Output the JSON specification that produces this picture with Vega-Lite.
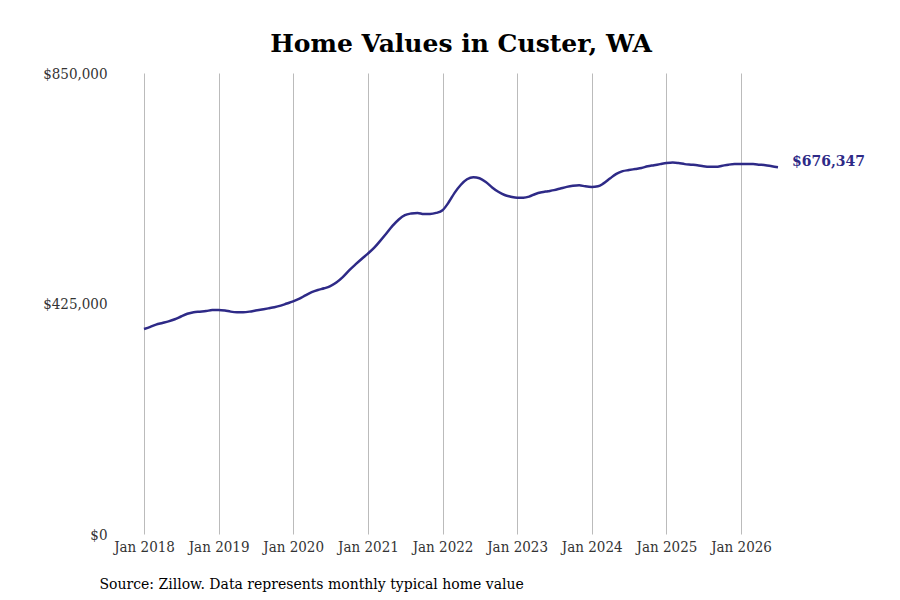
{
  "$schema": "https://vega.github.io/schema/vega-lite/v6.json",
  "autosize": {"type": "none"},
  "padding": {"left": 144, "top": 73, "right": 122, "bottom": 66},
  "width": 634,
  "height": 461,
  "background": "white",
  "title": {
    "text": "Home Values in Custer, WA",
    "font": "DejaVu Serif",
    "fontSize": 25,
    "fontWeight": "bold",
    "color": "#000000",
    "anchor": "middle",
    "offset": 9
  },
  "config": {
    "view": {"stroke": null},
    "font": "DejaVu Serif"
  },
  "data": {
    "values": [
      {"date": "2018-01-01", "value": 378000},
      {"date": "2018-02-01", "value": 382000},
      {"date": "2018-03-01", "value": 386000},
      {"date": "2018-04-01", "value": 389000},
      {"date": "2018-05-01", "value": 392000},
      {"date": "2018-06-01", "value": 396000},
      {"date": "2018-07-01", "value": 401000},
      {"date": "2018-08-01", "value": 406000},
      {"date": "2018-09-01", "value": 409000},
      {"date": "2018-10-01", "value": 410000},
      {"date": "2018-11-01", "value": 411000},
      {"date": "2018-12-01", "value": 413000},
      {"date": "2019-01-01", "value": 413000},
      {"date": "2019-02-01", "value": 412000},
      {"date": "2019-03-01", "value": 410000},
      {"date": "2019-04-01", "value": 409000},
      {"date": "2019-05-01", "value": 409000},
      {"date": "2019-06-01", "value": 410000},
      {"date": "2019-07-01", "value": 412000},
      {"date": "2019-08-01", "value": 414000},
      {"date": "2019-09-01", "value": 416000},
      {"date": "2019-10-01", "value": 418000},
      {"date": "2019-11-01", "value": 421000},
      {"date": "2019-12-01", "value": 425000},
      {"date": "2020-01-01", "value": 429000},
      {"date": "2020-02-01", "value": 434000},
      {"date": "2020-03-01", "value": 440000},
      {"date": "2020-04-01", "value": 446000},
      {"date": "2020-05-01", "value": 450000},
      {"date": "2020-06-01", "value": 453000},
      {"date": "2020-07-01", "value": 457000},
      {"date": "2020-08-01", "value": 464000},
      {"date": "2020-09-01", "value": 474000},
      {"date": "2020-10-01", "value": 486000},
      {"date": "2020-11-01", "value": 497000},
      {"date": "2020-12-01", "value": 507000},
      {"date": "2021-01-01", "value": 517000},
      {"date": "2021-02-01", "value": 528000},
      {"date": "2021-03-01", "value": 540000},
      {"date": "2021-04-01", "value": 554000},
      {"date": "2021-05-01", "value": 568000},
      {"date": "2021-06-01", "value": 580000},
      {"date": "2021-07-01", "value": 588000},
      {"date": "2021-08-01", "value": 591000},
      {"date": "2021-09-01", "value": 592000},
      {"date": "2021-10-01", "value": 590000},
      {"date": "2021-11-01", "value": 590000},
      {"date": "2021-12-01", "value": 592000},
      {"date": "2022-01-01", "value": 597000},
      {"date": "2022-02-01", "value": 612000},
      {"date": "2022-03-01", "value": 629000},
      {"date": "2022-04-01", "value": 644000},
      {"date": "2022-05-01", "value": 654000},
      {"date": "2022-06-01", "value": 658000},
      {"date": "2022-07-01", "value": 656000},
      {"date": "2022-08-01", "value": 649000},
      {"date": "2022-09-01", "value": 639000},
      {"date": "2022-10-01", "value": 631000},
      {"date": "2022-11-01", "value": 625000},
      {"date": "2022-12-01", "value": 622000},
      {"date": "2023-01-01", "value": 620000},
      {"date": "2023-02-01", "value": 620000},
      {"date": "2023-03-01", "value": 622000},
      {"date": "2023-04-01", "value": 627000},
      {"date": "2023-05-01", "value": 630000},
      {"date": "2023-06-01", "value": 632000},
      {"date": "2023-07-01", "value": 634000},
      {"date": "2023-08-01", "value": 637000},
      {"date": "2023-09-01", "value": 640000},
      {"date": "2023-10-01", "value": 642000},
      {"date": "2023-11-01", "value": 643000},
      {"date": "2023-12-01", "value": 641000},
      {"date": "2024-01-01", "value": 640000},
      {"date": "2024-02-01", "value": 641000},
      {"date": "2024-03-01", "value": 647000},
      {"date": "2024-04-01", "value": 656000},
      {"date": "2024-05-01", "value": 664000},
      {"date": "2024-06-01", "value": 669000},
      {"date": "2024-07-01", "value": 671000},
      {"date": "2024-08-01", "value": 673000},
      {"date": "2024-09-01", "value": 675000},
      {"date": "2024-10-01", "value": 678000},
      {"date": "2024-11-01", "value": 680000},
      {"date": "2024-12-01", "value": 682000},
      {"date": "2025-01-01", "value": 684000},
      {"date": "2025-02-01", "value": 685000},
      {"date": "2025-03-01", "value": 684000},
      {"date": "2025-04-01", "value": 682000},
      {"date": "2025-05-01", "value": 681000},
      {"date": "2025-06-01", "value": 680000},
      {"date": "2025-07-01", "value": 678000},
      {"date": "2025-08-01", "value": 677000},
      {"date": "2025-09-01", "value": 677000},
      {"date": "2025-10-01", "value": 679000},
      {"date": "2025-11-01", "value": 681000},
      {"date": "2025-12-01", "value": 682000},
      {"date": "2026-01-01", "value": 682000},
      {"date": "2026-02-01", "value": 682000},
      {"date": "2026-03-01", "value": 682000},
      {"date": "2026-04-01", "value": 681000},
      {"date": "2026-05-01", "value": 680000},
      {"date": "2026-06-01", "value": 678000},
      {"date": "2026-07-01", "value": 676347}
    ]
  },
  "encoding": {
    "x": {
      "field": "date",
      "type": "temporal",
      "scale": {"domain": ["2018-01-01", "2026-07-01"]},
      "axis": {
        "title": "Source: Zillow. Data represents monthly typical home value",
        "titleFont": "DejaVu Serif",
        "titleFontSize": 14,
        "titleFontWeight": "normal",
        "titleColor": "#000000",
        "titleAnchor": "start",
        "titleAlign": "left",
        "titleBaseline": "alphabetic",
        "titleX": -45,
        "titleY": 54,
        "format": "%b %Y",
        "tickCount": {"interval": "year", "step": 1},
        "labelFont": "DejaVu Serif Condensed",
        "labelFontSize": 15,
        "labelColor": "#333333",
        "labelAlign": "center",
        "labelOverlap": false,
        "labelBound": false,
        "labelFlush": false,
        "labelPadding": 5,
        "ticks": false,
        "domain": false,
        "grid": true,
        "gridColor": "#bbbbbb",
        "gridWidth": 1
      }
    },
    "y": {
      "field": "value",
      "type": "quantitative",
      "scale": {"domain": [0, 850000]},
      "axis": {
        "title": null,
        "values": [0, 425000, 850000],
        "format": "$,.0f",
        "labelFont": "DejaVu Serif Condensed",
        "labelFontSize": 15,
        "labelColor": "#333333",
        "labelPadding": 37,
        "ticks": false,
        "domain": false,
        "grid": false
      }
    }
  },
  "layer": [
    {
      "mark": {"type": "line", "color": "#2e2a87", "strokeWidth": 2.5, "interpolate": "monotone"}
    },
    {
      "transform": [{"filter": "datum.value == 676347"}],
      "mark": {"type": "text", "align": "left", "baseline": "middle", "dx": 14, "dy": -5, "font": "DejaVu Serif", "fontSize": 14, "fontWeight": "bold", "color": "#2e2a87"},
      "encoding": {
        "text": {"field": "value", "type": "quantitative", "format": "$,.0f"}
      }
    }
  ]
}
